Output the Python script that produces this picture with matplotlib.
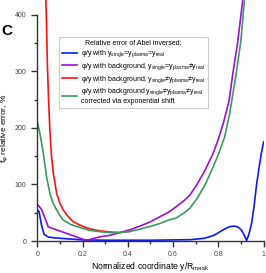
import matplotlib
matplotlib.use('Agg')
import matplotlib.pyplot as plt

plt.rcParams['font.family'] = ['Liberation Sans', 'DejaVu Sans']
plt.rcParams['mathtext.fontset'] = 'custom'
plt.rcParams['mathtext.rm'] = 'Liberation Sans'
plt.rcParams['mathtext.it'] = 'Liberation Sans'

# blue: phi/y with y_single = y_plasma = y_real
blue_x = [0, 0.008, 0.019, 0.03, 0.049, 0.08, 0.115, 0.2, 0.3, 0.4, 0.5, 0.6, 0.68,
          0.74, 0.78, 0.822, 0.85, 0.873, 0.89, 0.903, 0.915, 0.925, 0.935, 0.947,
          0.958, 0.969, 0.98, 0.99, 1.0]
blue_y = [56, 52, 28, 12, 7, 5.5, 4.5, 2, 1.5, 1.5, 1.5, 2, 2.5,
          5, 10, 20, 25.5, 26.5, 24, 19, 10, 1, 12, 31,
          62, 100, 130, 155, 175]

# purple: with background, y_single = y_plasma != y_real
purple_x = [0, 0.019, 0.049, 0.218, 0.277, 0.32, 0.365, 0.41, 0.454, 0.5, 0.542,
            0.58, 0.615, 0.65, 0.674, 0.704, 0.74, 0.777, 0.8, 0.822, 0.848, 0.864,
            0.885, 0.909]
purple_y = [65, 56, 25, 1, 7.6, 10, 15, 20, 26.5, 34, 43,
            51, 61, 72, 81, 99, 124, 155, 180, 208, 249, 296,
            350, 430]

# red: with background, y_single != y_plasma != y_real
red_x = [0.036, 0.04, 0.045, 0.05, 0.056, 0.063, 0.071, 0.086, 0.1, 0.115, 0.135,
         0.159, 0.19, 0.218, 0.25, 0.277, 0.32, 0.36, 0.41]
red_y = [450, 400, 310, 250, 195, 150, 120, 84, 67, 55, 44,
         34, 28, 23.5, 20, 18, 16, 15, 17]

# green: same, corrected via exponential shift
green_x = [0, 0.012, 0.027, 0.041, 0.056, 0.07, 0.086, 0.1, 0.115, 0.15, 0.189,
           0.23, 0.277, 0.32, 0.365, 0.41, 0.454, 0.5, 0.542, 0.58, 0.615, 0.65,
           0.674, 0.704, 0.74, 0.777, 0.8, 0.828, 0.85, 0.879, 0.9, 0.916]
green_y = [211, 190, 155, 114, 84, 67, 55, 45, 37, 29, 24,
           19, 16.5, 15, 15, 17, 21, 26, 31, 37, 41, 50,
           58, 74, 98, 131, 153, 184, 225, 296, 355, 430]

x_ticks = [0, 0.2, 0.4, 0.6, 0.8, 1.0]
x_ticklabels = ['0', '0.2', '0.4', '0.6', '0.8', '1']
y_ticks = [0, 100, 200, 300, 400]

labels = [
    r'φ/y with y$_{single}$=y$_{plasma}$=y$_{real}$',
    r'φ/y with background, y$_{single}$=y$_{plasma}$≠y$_{real}$',
    r'φ/y with background, y$_{single}$≠y$_{plasma}$≠y$_{real}$',
    'φ/y with background y$_{single}$≠y$_{plasma}$≠y$_{real}$\ncorrected via exponential shift',
]
colors = ['#0a1aff', '#9a10d8', '#ff1010', '#3a9a60']

fig = plt.figure(figsize=(2.66, 2.73), dpi=100)
ax = fig.add_axes([0.140, 0.117, 0.851, 0.883])

for xs, ys, c, lab in zip([blue_x, purple_x, red_x, green_x],
                          [blue_y, purple_y, red_y, green_y], colors, labels):
    ax.plot(xs, ys, color=c, lw=1.2, label=lab)

ax.set_xlim(0, 1)
ax.set_ylim(0, 426)
ax.spines['top'].set_visible(False)
ax.spines['right'].set_visible(False)
ax.spines['left'].set_bounds(0, 400)
for s in ['left', 'bottom']:
    ax.spines[s].set_color('#333333')
    ax.spines[s].set_linewidth(1.0)

ax.set_xticks(x_ticks)
ax.set_xticklabels(x_ticklabels)
ax.set_xticks([0.1, 0.3, 0.5, 0.7, 0.9], minor=True)
ax.set_yticks(y_ticks)
ax.set_yticks([50, 150, 250, 350], minor=True)
ax.tick_params(which='major', length=4.5, width=1, color='#333333',
               labelsize=5, labelcolor='#444444', pad=3.5)
ax.tick_params(which='minor', length=2.5, width=1, color='#333333')
ax.tick_params(axis='x', which='major', pad=2.5)

ax.set_xlabel(r'Normalized coordinate y/R$_{mask}$', fontsize=6.2)
ax.xaxis.set_label_coords(0.5, -0.078)
ax.set_ylabel(r'f$_{φ}$ relative error, %', fontsize=6)
ax.yaxis.set_label_coords(-0.122, 0.47)

leg = ax.legend(loc='upper left', bbox_to_anchor=(0.096, 0.846), borderaxespad=0,
                fontsize=5, title='Relative error of Abel inversed:',
                title_fontsize=5, handlelength=2.2, handletextpad=0.6,
                labelspacing=0.25, fancybox=False, edgecolor='#cccccc',
                framealpha=1, borderpad=0.4)
leg.get_frame().set_linewidth(0.8)

fig.text(0.024, 0.885, 'C', fontsize=11, fontweight='bold', ha='center', va='center')

fig.savefig('out.png', dpi=100)
